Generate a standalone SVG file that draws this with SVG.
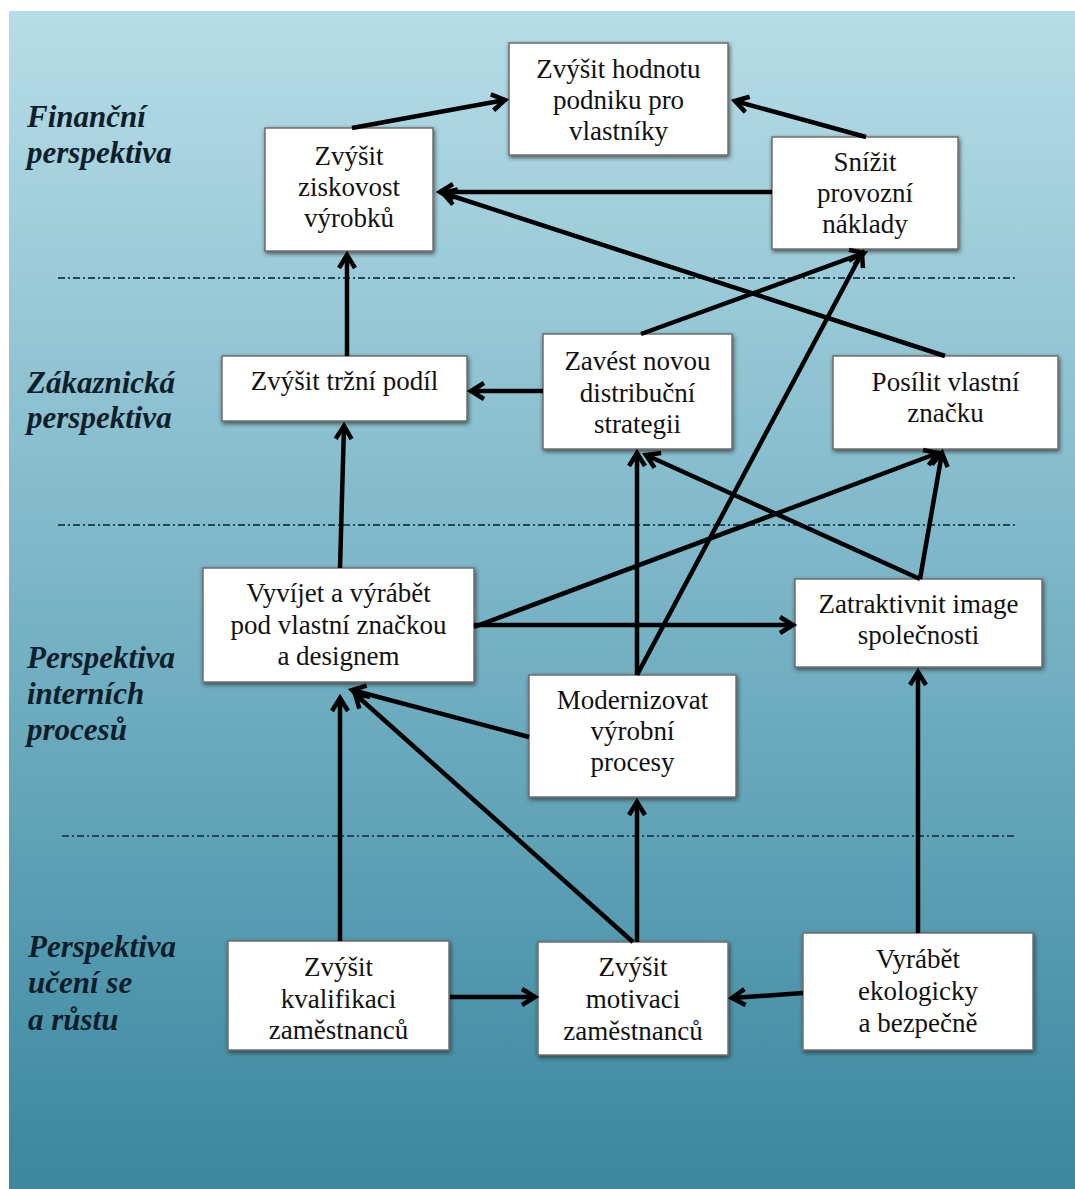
<svg xmlns="http://www.w3.org/2000/svg" width="1075" height="1189" viewBox="0 0 1075 1189">
  <defs>
    <linearGradient id="bg" x1="0" y1="0" x2="0" y2="1">
      <stop offset="0" stop-color="#b6dde7"/>
      <stop offset="0.5" stop-color="#79b4c6"/>
      <stop offset="1" stop-color="#3a879f"/>
    </linearGradient>
    <filter id="shadow" x="-10%" y="-10%" width="120%" height="125%">
      <feDropShadow dx="1" dy="2" stdDeviation="2" flood-color="#2a2a2a" flood-opacity="0.75"/>
    </filter>
    <marker id="head" viewBox="-18 -12 26 24" refX="0" refY="0" markerWidth="26" markerHeight="24" markerUnits="userSpaceOnUse" orient="auto">
      <path d="M-13,-8 L0,0 L-13,8" fill="none" stroke="#000" stroke-width="4.5" stroke-linejoin="miter"/>
    </marker>
    <style>
      .box { fill: #ffffff; stroke: #6e6e6e; stroke-width: 1.5; filter: url(#shadow); }
      .sep { stroke: #24475a; stroke-width: 2; stroke-dasharray: 7 3 2 3; fill: none; }
      .edge { stroke: #000; stroke-width: 4.5; fill: none; marker-end: url(#head); }
    </style>
  </defs>

  <!-- background panel -->
  <rect x="0" y="0" width="1075" height="1189" fill="#ffffff"/>
  <rect x="9" y="11" width="1066" height="1178" fill="url(#bg)"/>

  <!-- perspective separators -->
  <g id="separators">
    <line class="sep" x1="58" y1="278" x2="1015" y2="278"/>
    <line class="sep" x1="58" y1="525" x2="1015" y2="525"/>
    <line class="sep" x1="62" y1="836" x2="1015" y2="836"/>
  </g>

  <!-- perspective labels -->
  <g id="labels" fill="#0f1e2a" font-size="31" font-weight="bold" font-style="italic">
    <text font-family="Liberation Serif" x="27" y="127">Finanční</text>
    <text font-family="Liberation Serif" x="27" y="163">perspektiva</text>
    <text font-family="Liberation Serif" x="27" y="393">Zákaznická</text>
    <text font-family="Liberation Serif" x="27" y="428">perspektiva</text>
    <text font-family="Liberation Serif" x="27" y="668">Perspektiva</text>
    <text font-family="Liberation Serif" x="27" y="704">interních</text>
    <text font-family="Liberation Serif" x="27" y="740">procesů</text>
    <text font-family="Liberation Serif" x="28" y="957">Perspektiva</text>
    <text font-family="Liberation Serif" x="28" y="993">učení se</text>
    <text font-family="Liberation Serif" x="28" y="1030">a růstu</text>
  </g>

  <!-- nodes -->
  <g id="nodes" fill="#111" font-size="27" text-anchor="middle">
  <g id="node-hodnota">
    <rect class="box" x="509" y="43" width="219" height="112"/>
    <text font-family="Liberation Serif" x="618.5" y="78">Zvýšit hodnotu</text>
    <text font-family="Liberation Serif" x="618.5" y="109">podniku pro</text>
    <text font-family="Liberation Serif" x="618.5" y="140">vlastníky</text>
  </g>
  <g id="node-ziskovost">
    <rect class="box" x="265" y="128" width="168" height="123"/>
    <text font-family="Liberation Serif" x="349" y="165">Zvýšit</text>
    <text font-family="Liberation Serif" x="349" y="196">ziskovost</text>
    <text font-family="Liberation Serif" x="349" y="227">výrobků</text>
  </g>
  <g id="node-naklady">
    <rect class="box" x="772" y="137" width="186" height="112"/>
    <text font-family="Liberation Serif" x="865" y="171">Snížit</text>
    <text font-family="Liberation Serif" x="865" y="202">provozní</text>
    <text font-family="Liberation Serif" x="865" y="233">náklady</text>
  </g>
  <g id="node-podil">
    <rect class="box" x="222" y="356" width="245" height="65"/>
    <text font-family="Liberation Serif" x="344.5" y="390">Zvýšit tržní podíl</text>
  </g>
  <g id="node-distribuce">
    <rect class="box" x="543" y="334" width="189" height="115"/>
    <text font-family="Liberation Serif" x="637.5" y="370">Zavést novou</text>
    <text font-family="Liberation Serif" x="637.5" y="402">distribuční</text>
    <text font-family="Liberation Serif" x="637.5" y="433">strategii</text>
  </g>
  <g id="node-znacka">
    <rect class="box" x="833" y="356" width="225" height="93"/>
    <text font-family="Liberation Serif" x="945.5" y="391">Posílit vlastní</text>
    <text font-family="Liberation Serif" x="945.5" y="422">značku</text>
  </g>
  <g id="node-vyvijet">
    <rect class="box" x="203" y="568" width="271" height="114"/>
    <text font-family="Liberation Serif" x="338.5" y="602">Vyvíjet a výrábět</text>
    <text font-family="Liberation Serif" x="338.5" y="634">pod vlastní značkou</text>
    <text font-family="Liberation Serif" x="338.5" y="665">a designem</text>
  </g>
  <g id="node-image">
    <rect class="box" x="795" y="579" width="247" height="88"/>
    <text font-family="Liberation Serif" x="918.5" y="613">Zatraktivnit image</text>
    <text font-family="Liberation Serif" x="918.5" y="644">společnosti</text>
  </g>
  <g id="node-procesy">
    <rect class="box" x="529" y="675" width="207" height="122"/>
    <text font-family="Liberation Serif" x="632.5" y="709">Modernizovat</text>
    <text font-family="Liberation Serif" x="632.5" y="740">výrobní</text>
    <text font-family="Liberation Serif" x="632.5" y="771">procesy</text>
  </g>
  <g id="node-kvalifikace">
    <rect class="box" x="228" y="941" width="221" height="109"/>
    <text font-family="Liberation Serif" x="338.5" y="976">Zvýšit</text>
    <text font-family="Liberation Serif" x="338.5" y="1008">kvalifikaci</text>
    <text font-family="Liberation Serif" x="338.5" y="1039">zaměstnanců</text>
  </g>
  <g id="node-motivace">
    <rect class="box" x="538" y="942" width="190" height="113"/>
    <text font-family="Liberation Serif" x="633" y="976">Zvýšit</text>
    <text font-family="Liberation Serif" x="633" y="1008">motivaci</text>
    <text font-family="Liberation Serif" x="633" y="1040">zaměstnanců</text>
  </g>
  <g id="node-ekologie">
    <rect class="box" x="803" y="933" width="230" height="117"/>
    <text font-family="Liberation Serif" x="918" y="968">Vyrábět</text>
    <text font-family="Liberation Serif" x="918" y="1000">ekologicky</text>
    <text font-family="Liberation Serif" x="918" y="1032">a bezpečně</text>
  </g>
  </g>

  <!-- cause-and-effect links -->
  <g id="connectors">
    <line class="edge" x1="352" y1="128" x2="505" y2="100"/>
    <line class="edge" x1="866" y1="137" x2="735" y2="101"/>
    <line class="edge" x1="772" y1="192" x2="440" y2="192"/>
    <line class="edge" x1="945" y1="356" x2="443" y2="193"/>
    <line class="edge" x1="347" y1="356" x2="347" y2="255"/>
    <line class="edge" x1="543" y1="391" x2="471" y2="391"/>
    <line class="edge" x1="641" y1="334" x2="864" y2="253"/>
    <line class="edge" x1="340" y1="568" x2="344" y2="426"/>
    <line class="edge" x1="637" y1="675" x2="637" y2="453"/>
    <line class="edge" x1="637" y1="675" x2="862" y2="253"/>
    <line class="edge" x1="474" y1="627" x2="938" y2="453"/>
    <line class="edge" x1="920" y1="579" x2="942" y2="453"/>
    <line class="edge" x1="920" y1="579" x2="646" y2="455"/>
    <line class="edge" x1="474" y1="625" x2="793" y2="625"/>
    <line class="edge" x1="529" y1="737" x2="352" y2="690"/>
    <line class="edge" x1="340" y1="941" x2="340" y2="698"/>
    <line class="edge" x1="633" y1="942" x2="355" y2="694"/>
    <line class="edge" x1="637" y1="942" x2="637" y2="802"/>
    <line class="edge" x1="918" y1="933" x2="918" y2="672"/>
    <line class="edge" x1="450" y1="997" x2="535" y2="997"/>
    <line class="edge" x1="803" y1="993" x2="732" y2="998"/>
  </g>
</svg>
